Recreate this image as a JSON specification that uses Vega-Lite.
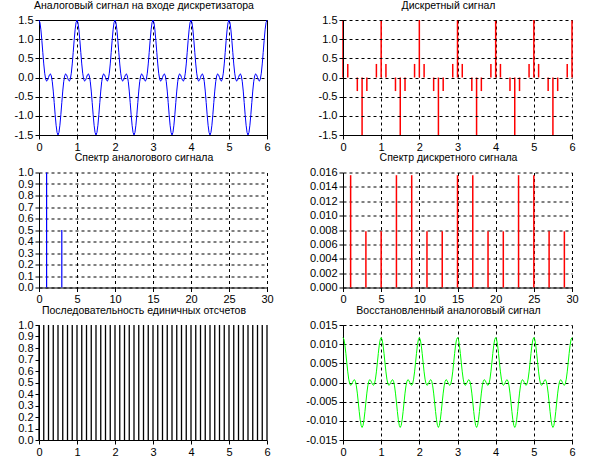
{
"$schema":"https://vega.github.io/schema/vega-lite/v6.json",
"padding":{"left":13,"top":0,"right":5,"bottom":5},
"background":"white",
"columns":2,
"bounds":"flush",
"spacing":{"row":37.5,"column":76},
"config":{
"locale":{"number":{"decimal":".","thousands":",","grouping":[3],"currency":["$",""],"minus":"-"}},
"view":{"stroke":null},
"font":"Liberation Sans",
"title":{"font":"Liberation Sans","fontSize":10.5,"fontWeight":"normal","color":"black","offset":3,"dx":-9,"baseline":"alphabetic"},
"axis":{"title":null,"grid":true,"gridColor":"black","gridDash":[3,3],"gridOpacity":1,"gridWidth":1,"domainColor":"black","tickColor":"black","tickSize":4,"labelColor":"black","labelFont":"Liberation Sans","labelFontSize":11,"labelFlush":false,"labelOverlap":false,"labelPadding":2}
},
"datasets":{
"an":[
{"t":0,"a":1.5,"r":0.01172},{"t":0.025,"a":1.433,"r":0.0112},{"t":0.05,"a":1.245,"r":0.00973},{"t":0.075,"a":0.969,"r":0.00757},{"t":0.1,"a":0.655,"r":0.00512},{"t":0.125,"a":0.354,"r":0.00277},{"t":0.15,"a":0.112,"r":0.00088},{"t":0.175,"a":-0.04,"r":-0.00031},{"t":0.2,"a":-0.095,"r":-0.00074},{"t":0.225,"a":-0.071,"r":-0.00055},{"t":0.25,"a":0,"r":0},{"t":0.275,"a":0.071,"r":0.00055},{"t":0.3,"a":0.095,"r":0.00074},{"t":0.325,"a":0.04,"r":0.00031},{"t":0.35,"a":-0.112,"r":-0.00088},{"t":0.375,"a":-0.354,"r":-0.00277},{"t":0.4,"a":-0.655,"r":-0.00512},{"t":0.425,"a":-0.969,"r":-0.00757},{"t":0.45,"a":-1.245,"r":-0.00973},{"t":0.475,"a":-1.433,"r":-0.0112},{"t":0.5,"a":-1.5,"r":-0.01172},{"t":0.525,"a":-1.433,"r":-0.0112},{"t":0.55,"a":-1.245,"r":-0.00973},{"t":0.575,"a":-0.969,"r":-0.00757},{"t":0.6,"a":-0.655,"r":-0.00512},{"t":0.625,"a":-0.354,"r":-0.00277},{"t":0.65,"a":-0.112,"r":-0.00088},{"t":0.675,"a":0.04,"r":0.00031},{"t":0.7,"a":0.095,"r":0.00074},{"t":0.725,"a":0.071,"r":0.00055},{"t":0.75,"a":0,"r":0},{"t":0.775,"a":-0.071,"r":-0.00055},{"t":0.8,"a":-0.095,"r":-0.00074},{"t":0.825,"a":-0.04,"r":-0.00031},{"t":0.85,"a":0.112,"r":0.00088},{"t":0.875,"a":0.354,"r":0.00277},{"t":0.9,"a":0.655,"r":0.00512},{"t":0.925,"a":0.969,"r":0.00757},{"t":0.95,"a":1.245,"r":0.00973},{"t":0.975,"a":1.433,"r":0.0112},
{"t":1,"a":1.5,"r":0.01172},{"t":1.025,"a":1.433,"r":0.0112},{"t":1.05,"a":1.245,"r":0.00973},{"t":1.075,"a":0.969,"r":0.00757},{"t":1.1,"a":0.655,"r":0.00512},{"t":1.125,"a":0.354,"r":0.00277},{"t":1.15,"a":0.112,"r":0.00088},{"t":1.175,"a":-0.04,"r":-0.00031},{"t":1.2,"a":-0.095,"r":-0.00074},{"t":1.225,"a":-0.071,"r":-0.00055},{"t":1.25,"a":0,"r":0},{"t":1.275,"a":0.071,"r":0.00055},{"t":1.3,"a":0.095,"r":0.00074},{"t":1.325,"a":0.04,"r":0.00031},{"t":1.35,"a":-0.112,"r":-0.00088},{"t":1.375,"a":-0.354,"r":-0.00277},{"t":1.4,"a":-0.655,"r":-0.00512},{"t":1.425,"a":-0.969,"r":-0.00757},{"t":1.45,"a":-1.245,"r":-0.00973},{"t":1.475,"a":-1.433,"r":-0.0112},{"t":1.5,"a":-1.5,"r":-0.01172},{"t":1.525,"a":-1.433,"r":-0.0112},{"t":1.55,"a":-1.245,"r":-0.00973},{"t":1.575,"a":-0.969,"r":-0.00757},{"t":1.6,"a":-0.655,"r":-0.00512},{"t":1.625,"a":-0.354,"r":-0.00277},{"t":1.65,"a":-0.112,"r":-0.00088},{"t":1.675,"a":0.04,"r":0.00031},{"t":1.7,"a":0.095,"r":0.00074},{"t":1.725,"a":0.071,"r":0.00055},{"t":1.75,"a":0,"r":0},{"t":1.775,"a":-0.071,"r":-0.00055},{"t":1.8,"a":-0.095,"r":-0.00074},{"t":1.825,"a":-0.04,"r":-0.00031},{"t":1.85,"a":0.112,"r":0.00088},{"t":1.875,"a":0.354,"r":0.00277},{"t":1.9,"a":0.655,"r":0.00512},{"t":1.925,"a":0.969,"r":0.00757},{"t":1.95,"a":1.245,"r":0.00973},{"t":1.975,"a":1.433,"r":0.0112},
{"t":2,"a":1.5,"r":0.01172},{"t":2.025,"a":1.433,"r":0.0112},{"t":2.05,"a":1.245,"r":0.00973},{"t":2.075,"a":0.969,"r":0.00757},{"t":2.1,"a":0.655,"r":0.00512},{"t":2.125,"a":0.354,"r":0.00277},{"t":2.15,"a":0.112,"r":0.00088},{"t":2.175,"a":-0.04,"r":-0.00031},{"t":2.2,"a":-0.095,"r":-0.00074},{"t":2.225,"a":-0.071,"r":-0.00055},{"t":2.25,"a":0,"r":0},{"t":2.275,"a":0.071,"r":0.00055},{"t":2.3,"a":0.095,"r":0.00074},{"t":2.325,"a":0.04,"r":0.00031},{"t":2.35,"a":-0.112,"r":-0.00088},{"t":2.375,"a":-0.354,"r":-0.00277},{"t":2.4,"a":-0.655,"r":-0.00512},{"t":2.425,"a":-0.969,"r":-0.00757},{"t":2.45,"a":-1.245,"r":-0.00973},{"t":2.475,"a":-1.433,"r":-0.0112},{"t":2.5,"a":-1.5,"r":-0.01172},{"t":2.525,"a":-1.433,"r":-0.0112},{"t":2.55,"a":-1.245,"r":-0.00973},{"t":2.575,"a":-0.969,"r":-0.00757},{"t":2.6,"a":-0.655,"r":-0.00512},{"t":2.625,"a":-0.354,"r":-0.00277},{"t":2.65,"a":-0.112,"r":-0.00088},{"t":2.675,"a":0.04,"r":0.00031},{"t":2.7,"a":0.095,"r":0.00074},{"t":2.725,"a":0.071,"r":0.00055},{"t":2.75,"a":0,"r":0},{"t":2.775,"a":-0.071,"r":-0.00055},{"t":2.8,"a":-0.095,"r":-0.00074},{"t":2.825,"a":-0.04,"r":-0.00031},{"t":2.85,"a":0.112,"r":0.00088},{"t":2.875,"a":0.354,"r":0.00277},{"t":2.9,"a":0.655,"r":0.00512},{"t":2.925,"a":0.969,"r":0.00757},{"t":2.95,"a":1.245,"r":0.00973},{"t":2.975,"a":1.433,"r":0.0112},
{"t":3,"a":1.5,"r":0.01172},{"t":3.025,"a":1.433,"r":0.0112},{"t":3.05,"a":1.245,"r":0.00973},{"t":3.075,"a":0.969,"r":0.00757},{"t":3.1,"a":0.655,"r":0.00512},{"t":3.125,"a":0.354,"r":0.00277},{"t":3.15,"a":0.112,"r":0.00088},{"t":3.175,"a":-0.04,"r":-0.00031},{"t":3.2,"a":-0.095,"r":-0.00074},{"t":3.225,"a":-0.071,"r":-0.00055},{"t":3.25,"a":0,"r":0},{"t":3.275,"a":0.071,"r":0.00055},{"t":3.3,"a":0.095,"r":0.00074},{"t":3.325,"a":0.04,"r":0.00031},{"t":3.35,"a":-0.112,"r":-0.00088},{"t":3.375,"a":-0.354,"r":-0.00277},{"t":3.4,"a":-0.655,"r":-0.00512},{"t":3.425,"a":-0.969,"r":-0.00757},{"t":3.45,"a":-1.245,"r":-0.00973},{"t":3.475,"a":-1.433,"r":-0.0112},{"t":3.5,"a":-1.5,"r":-0.01172},{"t":3.525,"a":-1.433,"r":-0.0112},{"t":3.55,"a":-1.245,"r":-0.00973},{"t":3.575,"a":-0.969,"r":-0.00757},{"t":3.6,"a":-0.655,"r":-0.00512},{"t":3.625,"a":-0.354,"r":-0.00277},{"t":3.65,"a":-0.112,"r":-0.00088},{"t":3.675,"a":0.04,"r":0.00031},{"t":3.7,"a":0.095,"r":0.00074},{"t":3.725,"a":0.071,"r":0.00055},{"t":3.75,"a":0,"r":0},{"t":3.775,"a":-0.071,"r":-0.00055},{"t":3.8,"a":-0.095,"r":-0.00074},{"t":3.825,"a":-0.04,"r":-0.00031},{"t":3.85,"a":0.112,"r":0.00088},{"t":3.875,"a":0.354,"r":0.00277},{"t":3.9,"a":0.655,"r":0.00512},{"t":3.925,"a":0.969,"r":0.00757},{"t":3.95,"a":1.245,"r":0.00973},{"t":3.975,"a":1.433,"r":0.0112},
{"t":4,"a":1.5,"r":0.01172},{"t":4.025,"a":1.433,"r":0.0112},{"t":4.05,"a":1.245,"r":0.00973},{"t":4.075,"a":0.969,"r":0.00757},{"t":4.1,"a":0.655,"r":0.00512},{"t":4.125,"a":0.354,"r":0.00277},{"t":4.15,"a":0.112,"r":0.00088},{"t":4.175,"a":-0.04,"r":-0.00031},{"t":4.2,"a":-0.095,"r":-0.00074},{"t":4.225,"a":-0.071,"r":-0.00055},{"t":4.25,"a":0,"r":0},{"t":4.275,"a":0.071,"r":0.00055},{"t":4.3,"a":0.095,"r":0.00074},{"t":4.325,"a":0.04,"r":0.00031},{"t":4.35,"a":-0.112,"r":-0.00088},{"t":4.375,"a":-0.354,"r":-0.00277},{"t":4.4,"a":-0.655,"r":-0.00512},{"t":4.425,"a":-0.969,"r":-0.00757},{"t":4.45,"a":-1.245,"r":-0.00973},{"t":4.475,"a":-1.433,"r":-0.0112},{"t":4.5,"a":-1.5,"r":-0.01172},{"t":4.525,"a":-1.433,"r":-0.0112},{"t":4.55,"a":-1.245,"r":-0.00973},{"t":4.575,"a":-0.969,"r":-0.00757},{"t":4.6,"a":-0.655,"r":-0.00512},{"t":4.625,"a":-0.354,"r":-0.00277},{"t":4.65,"a":-0.112,"r":-0.00088},{"t":4.675,"a":0.04,"r":0.00031},{"t":4.7,"a":0.095,"r":0.00074},{"t":4.725,"a":0.071,"r":0.00055},{"t":4.75,"a":0,"r":0},{"t":4.775,"a":-0.071,"r":-0.00055},{"t":4.8,"a":-0.095,"r":-0.00074},{"t":4.825,"a":-0.04,"r":-0.00031},{"t":4.85,"a":0.112,"r":0.00088},{"t":4.875,"a":0.354,"r":0.00277},{"t":4.9,"a":0.655,"r":0.00512},{"t":4.925,"a":0.969,"r":0.00757},{"t":4.95,"a":1.245,"r":0.00973},{"t":4.975,"a":1.433,"r":0.0112},
{"t":5,"a":1.5,"r":0.01172},{"t":5.025,"a":1.433,"r":0.0112},{"t":5.05,"a":1.245,"r":0.00973},{"t":5.075,"a":0.969,"r":0.00757},{"t":5.1,"a":0.655,"r":0.00512},{"t":5.125,"a":0.354,"r":0.00277},{"t":5.15,"a":0.112,"r":0.00088},{"t":5.175,"a":-0.04,"r":-0.00031},{"t":5.2,"a":-0.095,"r":-0.00074},{"t":5.225,"a":-0.071,"r":-0.00055},{"t":5.25,"a":0,"r":0},{"t":5.275,"a":0.071,"r":0.00055},{"t":5.3,"a":0.095,"r":0.00074},{"t":5.325,"a":0.04,"r":0.00031},{"t":5.35,"a":-0.112,"r":-0.00088},{"t":5.375,"a":-0.354,"r":-0.00277},{"t":5.4,"a":-0.655,"r":-0.00512},{"t":5.425,"a":-0.969,"r":-0.00757},{"t":5.45,"a":-1.245,"r":-0.00973},{"t":5.475,"a":-1.433,"r":-0.0112},{"t":5.5,"a":-1.5,"r":-0.01172},{"t":5.525,"a":-1.433,"r":-0.0112},{"t":5.55,"a":-1.245,"r":-0.00973},{"t":5.575,"a":-0.969,"r":-0.00757},{"t":5.6,"a":-0.655,"r":-0.00512},{"t":5.625,"a":-0.354,"r":-0.00277},{"t":5.65,"a":-0.112,"r":-0.00088},{"t":5.675,"a":0.04,"r":0.00031},{"t":5.7,"a":0.095,"r":0.00074},{"t":5.725,"a":0.071,"r":0.00055},{"t":5.75,"a":0,"r":0},{"t":5.775,"a":-0.071,"r":-0.00055},{"t":5.8,"a":-0.095,"r":-0.00074},{"t":5.825,"a":-0.04,"r":-0.00031},{"t":5.85,"a":0.112,"r":0.00088},{"t":5.875,"a":0.354,"r":0.00277},{"t":5.9,"a":0.655,"r":0.00512},{"t":5.925,"a":0.969,"r":0.00757},{"t":5.95,"a":1.245,"r":0.00973},{"t":5.975,"a":1.433,"r":0.0112},
{"t":6,"a":1.5,"r":0.01172}
],
"s":[
{"t":0,"v":1.5,"p":1},{"t":0.125,"v":0.354,"p":1},{"t":0.25,"v":0,"p":1},{"t":0.375,"v":-0.354,"p":1},{"t":0.5,"v":-1.5,"p":1},{"t":0.625,"v":-0.354,"p":1},{"t":0.75,"v":0,"p":1},{"t":0.875,"v":0.354,"p":1},
{"t":1,"v":1.5,"p":1},{"t":1.125,"v":0.354,"p":1},{"t":1.25,"v":0,"p":1},{"t":1.375,"v":-0.354,"p":1},{"t":1.5,"v":-1.5,"p":1},{"t":1.625,"v":-0.354,"p":1},{"t":1.75,"v":0,"p":1},{"t":1.875,"v":0.354,"p":1},
{"t":2,"v":1.5,"p":1},{"t":2.125,"v":0.354,"p":1},{"t":2.25,"v":0,"p":1},{"t":2.375,"v":-0.354,"p":1},{"t":2.5,"v":-1.5,"p":1},{"t":2.625,"v":-0.354,"p":1},{"t":2.75,"v":0,"p":1},{"t":2.875,"v":0.354,"p":1},
{"t":3,"v":1.5,"p":1},{"t":3.125,"v":0.354,"p":1},{"t":3.25,"v":0,"p":1},{"t":3.375,"v":-0.354,"p":1},{"t":3.5,"v":-1.5,"p":1},{"t":3.625,"v":-0.354,"p":1},{"t":3.75,"v":0,"p":1},{"t":3.875,"v":0.354,"p":1},
{"t":4,"v":1.5,"p":1},{"t":4.125,"v":0.354,"p":1},{"t":4.25,"v":0,"p":1},{"t":4.375,"v":-0.354,"p":1},{"t":4.5,"v":-1.5,"p":1},{"t":4.625,"v":-0.354,"p":1},{"t":4.75,"v":0,"p":1},{"t":4.875,"v":0.354,"p":1},
{"t":5,"v":1.5,"p":1},{"t":5.125,"v":0.354,"p":1},{"t":5.25,"v":0,"p":1},{"t":5.375,"v":-0.354,"p":1},{"t":5.5,"v":-1.5,"p":1},{"t":5.625,"v":-0.354,"p":1},{"t":5.75,"v":0,"p":1},{"t":5.875,"v":0.354,"p":1},
{"t":6,"v":1.5,"p":1}
],
"sa":[{"f":1,"m":1},{"f":3,"m":0.5}],
"sd":[{"f":1,"m":0.015625},{"f":3,"m":0.0078125},{"f":5,"m":0.0078125},{"f":7,"m":0.015625},{"f":9,"m":0.015625},{"f":11,"m":0.0078125},{"f":13,"m":0.0078125},{"f":15,"m":0.015625},{"f":17,"m":0.015625},{"f":19,"m":0.0078125},{"f":21,"m":0.0078125},{"f":23,"m":0.015625},{"f":25,"m":0.015625},{"f":27,"m":0.0078125},{"f":29,"m":0.0078125}]
},
"concat":[
{"title":"Аналоговый сигнал на входе дискретизатора","width":228,"height":115,"view":{"stroke":"black"},
"data":{"name":"an"},"mark":{"type":"line","color":"#0000ff","strokeWidth":1},
"encoding":{"x":{"field":"t","type":"quantitative","scale":{"domain":[0,6],"nice":false},"axis":{"values":[0,1,2,3,4,5,6]}},
"y":{"field":"a","type":"quantitative","scale":{"domain":[-1.5,1.5],"nice":false,"zero":false},"axis":{"values":[-1.5,-1,-0.5,0,0.5,1,1.5],"format":".1f"}}}},
{"title":"Дискретный сигнал","width":229,"height":115,
"data":{"name":"s"},"mark":{"type":"rule","color":"#ff0000","strokeWidth":1.5},
"encoding":{"x":{"field":"t","type":"quantitative","scale":{"domain":[0,6],"nice":false},"axis":{"values":[0,1,2,3,4,5,6]}},
"y":{"field":"v","type":"quantitative","scale":{"domain":[-1.5,1.5],"nice":false,"zero":false},"axis":{"values":[-1.5,-1,-0.5,0,0.5,1,1.5],"format":".1f","zindex":1}},
"y2":{"datum":0}}},
{"title":"Спектр аналогового сигнала","width":228,"height":115,
"data":{"name":"sa"},"mark":{"type":"rule","color":"#0000ff","strokeWidth":1.2},
"encoding":{"x":{"field":"f","type":"quantitative","scale":{"domain":[0,30],"nice":false},"axis":{"values":[0,5,10,15,20,25,30]}},
"y":{"field":"m","type":"quantitative","scale":{"domain":[0,1],"nice":false},"axis":{"values":[0,0.1,0.2,0.3,0.4,0.5,0.6,0.7,0.8,0.9,1],"format":".1f"}},
"y2":{"datum":0}}},
{"title":"Спектр дискретного сигнала","width":229,"height":115,
"data":{"name":"sd"},"mark":{"type":"rule","color":"#ff0000","strokeWidth":1.5},
"encoding":{"x":{"field":"f","type":"quantitative","scale":{"domain":[0,30],"nice":false},"axis":{"values":[0,5,10,15,20,25,30]}},
"y":{"field":"m","type":"quantitative","scale":{"domain":[0,0.016],"nice":false},"axis":{"values":[0,0.002,0.004,0.006,0.008,0.01,0.012,0.014,0.016],"format":".3f"}},
"y2":{"datum":0}}},
{"title":"Последовательность  единичных отсчетов","width":228,"height":115,
"data":{"name":"s"},"mark":{"type":"rule","color":"#000000","strokeWidth":1.3},
"encoding":{"x":{"field":"t","type":"quantitative","scale":{"domain":[0,6],"nice":false},"axis":{"values":[0,1,2,3,4,5,6],"grid":false}},
"y":{"field":"p","type":"quantitative","scale":{"domain":[0,1],"nice":false},"axis":{"values":[0,0.1,0.2,0.3,0.4,0.5,0.6,0.7,0.8,0.9,1],"format":".1f","grid":false}},
"y2":{"datum":0}}},
{"title":"Восстановленный аналоговый сигнал","width":229,"height":115,
"data":{"name":"an"},"mark":{"type":"line","color":"#00ff00","strokeWidth":1},
"encoding":{"x":{"field":"t","type":"quantitative","scale":{"domain":[0,6],"nice":false},"axis":{"values":[0,1,2,3,4,5,6]}},
"y":{"field":"r","type":"quantitative","scale":{"domain":[-0.015,0.015],"nice":false,"zero":false},"axis":{"values":[-0.015,-0.01,-0.005,0,0.005,0.01,0.015],"format":".3f"}}}}
]
}
